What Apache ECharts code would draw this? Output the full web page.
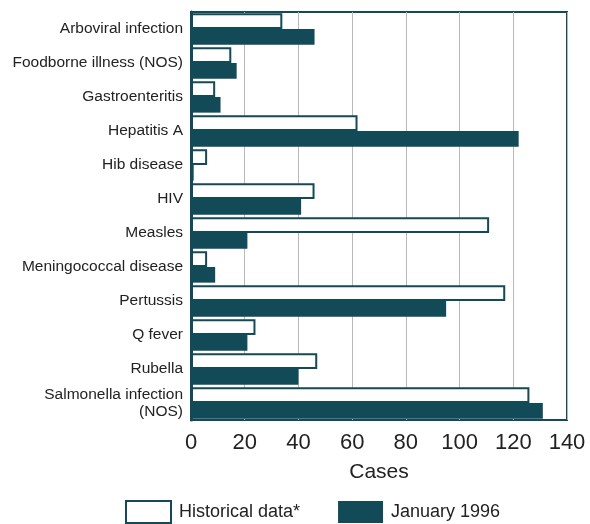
<!DOCTYPE html>
<html>
<head>
<meta charset="utf-8">
<script src="https://cdn.jsdelivr.net/npm/echarts@6/dist/echarts.min.js"></script>
<style>
  html, body { margin: 0; padding: 0; background: #fff; }
  #chart { width: 590px; height: 524px; }
</style>
</head>
<body>
<div id="chart"></div>
<script>
var categories = ['Arboviral infection', 'Foodborne illness (NOS)', 'Gastroenteritis', 'Hepatitis A',
    'Hib disease', 'HIV', 'Measles', 'Meningococcal disease', 'Pertussis', 'Q fever', 'Rubella',
    'Salmonella infection\n(NOS)'];
var historical = [34, 15, 9, 62, 6, 46, 111, 6, 117, 24, 47, 126];
var jan1996 = [46, 17, 11, 122, 1, 41, 21, 9, 95, 21, 40, 131];
var xTicks = [0, 20, 40, 60, 80, 100, 120, 140];

var dark = '#134a57';
var myChart = echarts.init(document.getElementById('chart'));
var option = {
    backgroundColor: '#fff',
    textStyle: { fontFamily: 'Liberation Sans' },
    animation: false,
    legend: {
        data: ['Historical data*', 'January 1996'],
        icon: 'rect',
        left: 125,
        top: 500,
        padding: 0,
        itemWidth: 45,
        itemHeight: 22,
        itemGap: 38,
        textStyle: { fontSize: 18, color: '#222', padding: [0, 0, 0, 3] }
    },
    grid: {
        left: 191,
        right: 23,
        top: 12,
        bottom: 104,
        show: true,
        borderColor: dark,
        borderWidth: 2
    },
    xAxis: {
        type: 'value',
        min: xTicks[0],
        max: xTicks[xTicks.length - 1],
        interval: 20,
        name: 'Cases',
        nameLocation: 'middle',
        nameGap: 42,
        nameTextStyle: { fontSize: 21, color: '#222' },
        axisLine: { show: false },
        axisTick: { show: false },
        axisLabel: { fontSize: 22, color: '#222', margin: 12 },
        splitLine: { lineStyle: { color: '#b8b8b8', width: 1 } }
    },
    yAxis: {
        type: 'category',
        data: categories,
        inverse: true,
        axisLine: { lineStyle: { color: dark, width: 3 } },
        axisTick: { show: false },
        axisLabel: { fontSize: 15.5, color: '#222', margin: 8, lineHeight: 17 }
    },
    series: [
        {
            name: 'Historical data*',
            type: 'bar',
            data: historical,
            barGap: '0%',
            barCategoryGap: '8%',
            itemStyle: { color: '#fff', borderColor: dark, borderWidth: 2 }
        },
        {
            name: 'January 1996',
            type: 'bar',
            data: jan1996,
            itemStyle: { color: dark }
        }
    ]
};
myChart.setOption(option);
</script>
</body>
</html>
